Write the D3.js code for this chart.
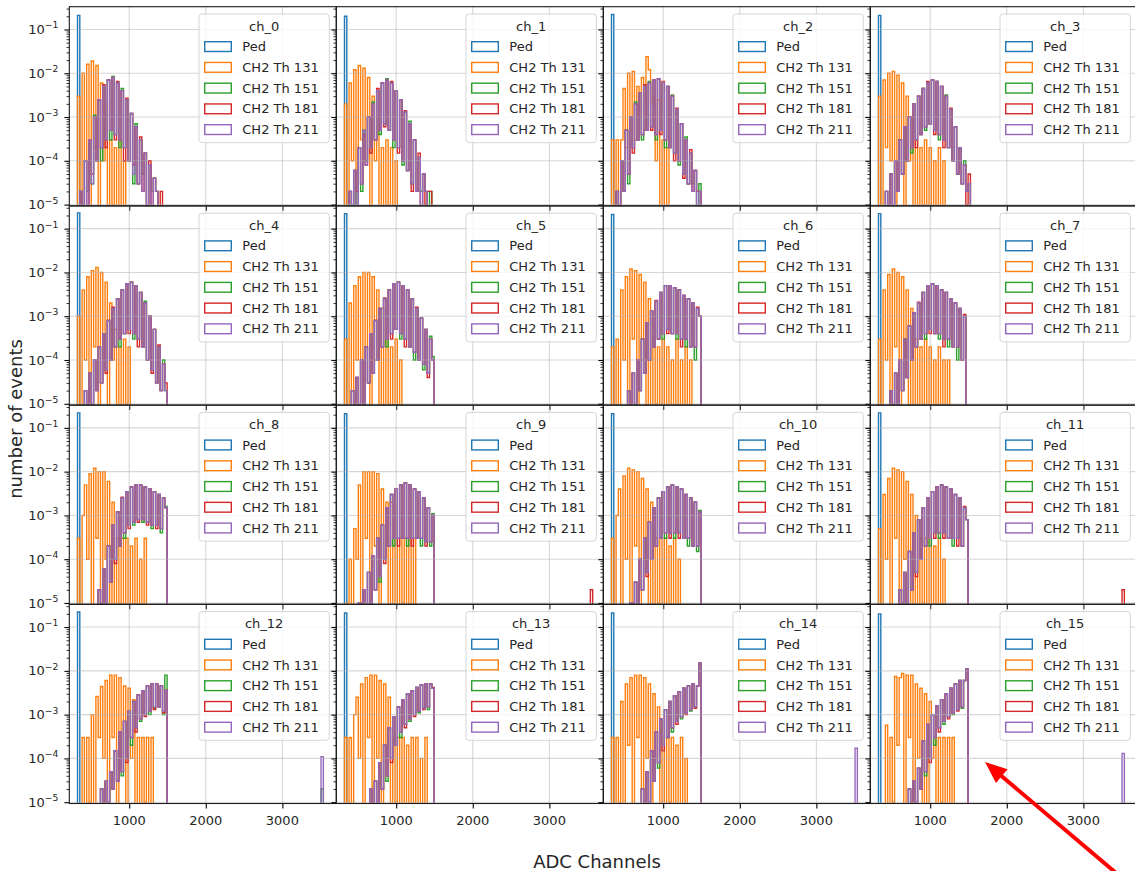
<!DOCTYPE html>
<html>
<head>
<meta charset="utf-8">
<script src="https://cdn.jsdelivr.net/npm/d3@7"></script>
<style>
  body { margin: 0; background: #fff; }
  svg { display: block; font-family: "DejaVu Sans", sans-serif; }
</style>
</head>
<body>
<div id="chart"></div>
<script>
// ---- data ----
const channels = ["ch_0","ch_1","ch_2","ch_3","ch_4","ch_5","ch_6","ch_7",
                  "ch_8","ch_9","ch_10","ch_11","ch_12","ch_13","ch_14","ch_15"];
const seriesNames = ["Ped", "CH2 Th 131", "CH2 Th 151", "CH2 Th 181", "CH2 Th 211"];
const seriesColors = ["#1f77b4", "#ff7f0e", "#2ca02c", "#d62728", "#9467bd"];

// histogram bins: edge k = binOrigin + k * binWidth (ADC channels)
const binOrigin = 295;
const binWidth = 30;

const xTicks = [1000, 2000, 3000];
const yTicks = [1e-1, 1e-2, 1e-3, 1e-4, 1e-5];

// pedestal: one bin per channel
const pedBin = 1;
const pedestal = [2.1e-1, 2.0e-1, 2.2e-1, 2.1e-1, 2.3e-1, 2.2e-1, 2.1e-1, 2.2e-1,
                  2.2e-1, 2.1e-1, 2.1e-1, 2.2e-1, 2.2e-1, 2.1e-1, 2.1e-1, 2.0e-1];

// CH2 Th 131 (first bin index, then per-bin fractions)
const th131Start = [1, 1, 1, 1, 1, 1, 1, 1, 1, 2, 1, 1, 3, 1, 1, 4];
const th131 = [
  [3e-3,0,1e-2,1e-4,1.6e-2,0,1.9e-2,2e-4,1.5e-2,0,6e-3,1e-4,2e-3,0,3e-4,1e-5,2e-4,0,3e-4,0,1e-4,0],
  [2e-3,0,6e-3,1e-4,1.2e-2,0,1.5e-2,3e-4,1.3e-2,1e-4,8e-3,0,3e-3,1e-4,1e-3,0,2e-4,0,3e-4,1e-5,2e-4,0,1e-4,0],
  [3e-4,0,3e-4,0,3e-4,4.5e-3,2e-4,1e-2,1e-3,1.1e-2,3e-4,5e-3,1e-3,8e-3,5e-4,2.4e-2,1.2e-2,2e-3,3e-3,1e-4,2.5e-3,0,3e-4,0,2e-4,0],
  [3e-3,0,7e-3,2e-4,1e-2,1e-4,1.1e-2,0,9e-3,3e-4,6e-3,0,3e-3,1e-4,1e-3,0,3e-4,0,2e-4,1e-5,3e-4,0,2e-4,0,1e-4,0,2e-4,0,1e-4,0],
  [1e-3,0,4e-3,1e-4,8e-3,0,1.1e-2,2e-4,1.3e-2,0,1e-2,1e-4,6e-3,0,2e-3,1e-4,5e-4,0,2e-4,0,3e-4,1e-5,2e-4],
  [3e-4,0,2e-3,0,5e-3,1e-4,8e-3,0,1e-2,2e-4,1e-2,0,8e-3,1e-4,4e-3,0,1.5e-3,0,3e-4,1e-5,2e-4,0,3e-4,0,1e-4],
  [2e-4,0,3e-4,0,4e-3,1e-4,8e-3,0,1.2e-2,3e-4,1.1e-2,0,9e-3,1e-4,6e-3,0,2.5e-3,0,3e-4,1e-5,2e-4,0,3e-4,0,2e-4,0,1e-4,0,3e-4,0,1e-4,0,2e-4,0,1e-4],
  [3e-4,0,4e-3,1e-4,9e-3,0,1.2e-2,2e-4,1e-2,0,8e-3,1e-4,4e-3,0,1.5e-3,0,3e-4,0,2e-4,1e-5,3e-4,0,2e-4,0,1e-4,0,2e-4,0,1e-4,0,1e-4],
  [3e-4,0,1e-3,5e-3,1e-4,9e-3,0,1.2e-2,3e-4,1e-2,0,1e-2,1e-4,6e-3,0,2e-3,0,3e-4,1e-5,3e-4,0,3e-4,0,2e-4,0,3e-4,0,1e-4,0,3e-4,0],
  [1e-5,1e-4,0,5e-4,1e-4,5e-3,0,1e-2,3e-4,1e-2,0,1e-2,2e-4,9e-3,0,4e-3,1e-4,2e-3,0,2e-3,0,1.5e-3,0,3e-4,1e-5,3e-4,0,3e-4,0,3e-4],
  [3e-4,0,1e-3,4e-3,0,8e-3,1e-4,1.2e-2,0,1.1e-2,2e-4,1e-2,0,7e-3,1e-4,4e-3,0,2e-3,0,3e-4,1e-5,3e-4,0,3e-4,0,2e-4,0,3e-4,0,1e-4],
  [5e-4,0,3e-3,1e-4,7e-3,0,1.2e-2,3e-4,1.1e-2,0,1e-2,1e-4,6e-3,0,3e-3,0,1e-3,0,3e-4,1e-5,3e-4,0,3e-4,0,2e-4,0,3e-4,0,1e-4,0],
  [3e-4,0,3e-4,1e-5,1e-3,0,2.6e-3,3e-4,4.4e-3,1e-4,6e-3,0,8e-3,3e-4,8e-3,0,7e-3,1e-4,4.5e-3,0,4e-3,1e-4,2.2e-3,0,3e-4,0,3e-4,1e-5,3e-4,0,3e-4,0],
  [3e-4,0,3e-4,0,1e-3,2.5e-3,1e-4,5e-3,0,7e-3,3e-4,8e-3,0,8e-3,1e-4,6e-3,0,5e-3,1e-4,2.5e-3,0,3e-4,1e-5,3e-4,0,3e-4,0,2e-4,0,3e-4,0,3e-4,0,1e-4,0,3e-4],
  [3e-4,0,3e-4,1e-5,2e-3,0,5e-3,2e-4,7e-3,0,8e-3,3e-4,8e-3,0,7e-3,1e-4,5e-3,0,3e-3,1e-4,1.5e-3,0,3e-4,0,3e-4,1e-5,3e-4,0,2e-4,0,3e-4,0,1e-4,0],
  [5.7e-4,0,3e-4,1e-5,7.4e-3,2e-4,7e-3,8.7e-3,0,8e-3,3e-4,8e-3,0,5e-3,1e-4,4e-3,0,3e-3,0,2e-3,1e-4,3e-4,0,3e-4,1e-5,3e-4,0,3e-4,0,3e-4,0]
];

// the three higher thresholds start at the same bin
const thHighStart = [2, 3, 3, 4, 4, 4, 8, 6, 10, 7, 9, 10, 11, 12, 14, 14];

// CH2 Th 151
const th151 = [
  [2e-5,0,1e-4,2e-5,2.5e-4,3e-5,1.1e-3,1e-4,2.5e-3,1e-4,5e-3,3e-4,7e-3,3e-4,8.5e-3,4e-4,6e-3,2e-4,4.5e-3,2e-4,2.5e-3,1e-4,1.2e-3,3e-5,7e-4,3e-5,3e-4,5e-5,1.5e-4,1e-5,8e-5,2e-5,4e-5,2e-5],
  [2e-5,1e-5,6e-5,1e-5,2e-4,2e-5,5e-4,1e-4,1e-3,2e-4,2.2e-3,3e-4,4e-3,4e-4,6e-3,7e-4,7.5e-3,5e-4,6e-3,2e-4,4e-3,2e-4,2.5e-3,8e-5,1.3e-3,6e-5,8e-4,3e-5,3e-4,2e-5,1.2e-4,2e-5,5e-5,2e-5,0,2e-5],
  [2e-5,0,1e-4,2e-5,5e-4,3e-5,1e-3,2e-4,2.2e-3,3e-4,3.5e-3,3e-4,5e-3,5e-4,6.5e-3,6e-4,7e-3,3e-4,7.5e-3,5e-4,6e-3,2e-4,5e-3,2e-4,3.2e-3,1.5e-4,1.5e-3,8e-5,7e-4,5e-5,3.5e-4,3e-5,1.5e-4,3e-5,6e-5,1e-5,3e-5],
  [2e-5,0,5e-5,1e-5,1e-4,2e-5,3e-4,5e-5,6e-4,1e-4,1e-3,1.5e-4,2e-3,3e-4,3e-3,4e-4,4.5e-3,5e-4,6e-3,7e-4,7e-3,5e-4,6.5e-3,3e-4,5e-3,3e-4,3.2e-3,2e-4,1.5e-3,1e-4,6e-4,5e-5,2e-4,3e-5,1e-4,2e-5,3e-5],
  [2e-5,0,5e-5,1e-5,1e-4,2e-5,2e-4,3e-5,4e-4,6e-5,8e-4,1e-4,1.5e-3,2e-4,2.5e-3,2e-4,4e-3,4e-4,5.5e-3,5e-4,6e-3,3e-4,5e-3,3e-4,3.5e-3,2e-4,2.2e-3,1e-4,1e-3,6e-5,5e-4,3e-5,2e-4,2e-5,1e-4,2e-5],
  [2e-5,0,4e-5,1e-5,1e-4,1e-5,2e-4,3e-5,4e-4,5e-5,8e-4,1e-4,1.5e-3,2e-4,2.5e-3,2e-4,4e-3,4e-4,5.5e-3,5e-4,6e-3,3e-4,5e-3,3e-4,4e-3,2e-4,2.5e-3,1e-4,1.5e-3,1e-4,9e-4,6e-5,5e-4,5e-5,3.5e-4,1.2e-4],
  [2e-5,0,5e-5,1e-5,1e-4,2e-5,3e-4,5e-5,7e-4,1e-4,1.3e-3,2e-4,2.2e-3,3e-4,3.5e-3,3e-4,5e-3,5e-4,5e-3,4e-4,4.5e-3,3e-4,4e-3,3e-4,3e-3,2e-4,2.5e-3,2e-4,2e-3,1e-4,1.5e-3,1e-3],
  [2e-5,0,5e-5,1e-5,1e-4,2e-5,3e-4,4e-5,6e-4,1e-4,1.2e-3,2e-4,2e-3,3e-4,3.5e-3,3e-4,5e-3,5e-4,5.5e-3,4e-4,5e-3,3e-4,4e-3,3e-4,3.5e-3,2e-4,2.5e-3,2e-4,2e-3,1e-4,1.5e-3,1e-4,1e-3],
  [2e-5,0,6e-5,1e-5,2e-4,3e-5,6e-4,1e-4,1.2e-3,2e-4,2.5e-3,3e-4,3.5e-3,6e-4,4.5e-3,6e-4,5e-3,8e-4,5e-3,7e-4,4.5e-3,7e-4,4e-3,5e-4,3.5e-3,6e-4,3e-3,4e-4,2.5e-3,1.6e-3],
  [1e-5,0,2e-5,0,5e-5,1e-5,1.2e-4,2e-5,3e-4,3e-5,6e-4,1e-4,1.5e-3,2e-4,3e-3,2e-4,4e-3,3e-4,5e-3,3e-4,5.5e-3,2e-4,5e-3,3e-4,4e-3,3e-4,3.5e-3,2e-4,2.5e-3,2.5e-4,1.5e-3,2e-4,1.1e-3],
  [1e-5,0,3e-5,1e-5,1e-4,2e-5,3e-4,5e-5,7e-4,1e-4,1.5e-3,2e-4,2.5e-3,3e-4,3.5e-3,3e-4,4.5e-3,4e-4,5e-3,3e-4,4.5e-3,4e-4,4e-3,3e-4,3e-3,2e-4,2.5e-3,2e-4,2e-3,1.5e-4,1.3e-3],
  [2e-5,0,5e-5,1e-5,1.5e-4,2e-5,4e-4,5e-5,8e-4,1e-4,1.5e-3,2e-4,2.5e-3,2e-4,3.5e-3,4e-4,4.5e-3,3e-4,5e-3,4e-4,4.5e-3,3e-4,4e-3,2e-4,3e-3,3e-4,2.5e-3,2e-4,1.5e-3,8e-4],
  [2e-5,0,3e-5,1e-5,5e-5,2e-5,1.5e-4,3e-5,4e-4,4e-5,7e-4,1e-4,1.2e-3,2e-4,2e-3,5e-4,2.8e-3,7e-4,3.5e-3,1e-3,4.5e-3,1e-3,5e-3,1.4e-3,5e-3,1.5e-3,4.5e-3,1e-3,8e-3],
  [2e-5,0,3e-5,1e-5,8e-5,2e-5,2e-4,3e-5,5e-4,1e-4,9e-4,2e-4,1.5e-3,3e-4,2.2e-3,6e-4,3e-3,7e-4,3.5e-3,1e-3,4.2e-3,1.1e-3,4.8e-3,1.4e-3,5e-3,1.3e-3,5e-3,4e-3],
  [2e-5,0,5e-5,1e-5,1.5e-4,3e-5,4e-4,6e-5,8e-4,2e-4,1.3e-3,3e-4,2e-3,4e-4,2.7e-3,7e-4,3.3e-3,8e-4,4e-3,1.1e-3,4.5e-3,1.2e-3,5e-3,1.5e-3,4.5e-3,1.5e-2],
  [2e-5,0,3e-5,1e-5,6e-5,2e-5,2.5e-4,4e-5,6e-4,1e-4,1e-3,2e-4,1.6e-3,5e-4,2.2e-3,6e-4,3e-3,9e-4,4e-3,1e-3,5e-3,1.3e-3,6e-3,1.4e-3,6e-3,1.1e-2]
];

// CH2 Th 181
const th181 = [
  [2e-5,1e-5,1e-4,1e-5,3e-4,5e-5,1e-3,1e-4,2.4e-3,2e-4,5.5e-3,2e-4,7e-3,5e-4,8e-3,3e-4,6.5e-3,3e-4,4e-3,1e-4,2.7e-3,1e-4,1.2e-3,8e-5,6e-4,3e-5,3.5e-4,2e-5,1.5e-4,0,1e-4,0,4e-5,2e-5,0,2e-5],
  [2e-5,0,6e-5,2e-5,2e-4,3e-5,4e-4,8e-5,1e-3,1.5e-4,2e-3,3e-4,4.5e-3,5e-4,6e-3,6e-4,7e-3,5e-4,6.5e-3,3e-4,4e-3,1.5e-4,2.5e-3,1e-4,1.4e-3,6e-5,7e-4,2e-5,3e-4,2e-5,1.5e-4,1e-5,5e-5,1e-5,2e-5,2e-5],
  [2e-5,1e-5,1e-4,2e-5,5e-4,5e-5,1e-3,1.5e-4,2e-3,3e-4,3.5e-3,4e-4,5.5e-3,5e-4,6e-3,5e-4,7e-3,4e-4,7.5e-3,4e-4,6.5e-3,3e-4,5e-3,2e-4,3e-3,1e-4,1.6e-3,1e-4,7e-4,4e-5,3e-4,3e-5,1.8e-4,2e-5,6e-5,2e-5,2e-5],
  [2e-5,1e-5,5e-5,1e-5,1e-4,2e-5,3e-4,5e-5,6e-4,1e-4,1e-3,2e-4,2e-3,2e-4,3e-3,4e-4,4.5e-3,6e-4,6.5e-3,7e-4,7e-3,4e-4,6.5e-3,4e-4,5e-3,2e-4,3e-3,2e-4,1.6e-3,1e-4,6e-4,5e-5,2e-4,3e-5,8e-5,1e-5,5e-5],
  [2e-5,1e-5,5e-5,1e-5,1e-4,2e-5,2e-4,3e-5,4e-4,5e-5,8e-4,1e-4,1.6e-3,2e-4,2.5e-3,3e-4,4e-3,4e-4,5.5e-3,4e-4,6e-3,4e-4,5e-3,2e-4,3.5e-3,2e-4,2e-3,1e-4,1e-3,5e-5,5e-4,3e-5,2.2e-4,2e-5,8e-5,3e-5],
  [2e-5,1e-5,4e-5,1e-5,1e-4,1e-5,2e-4,3e-5,4e-4,5e-5,8e-4,1e-4,1.5e-3,2e-4,2.6e-3,3e-4,4e-3,3e-4,5.5e-3,5e-4,6e-3,4e-4,5e-3,2e-4,4e-3,2e-4,2.5e-3,1.5e-4,1.6e-3,1e-4,9e-4,8e-5,5e-4,4e-5,3e-4,1e-4],
  [2e-5,1e-5,5e-5,1e-5,1e-4,2e-5,3e-4,5e-5,7e-4,1e-4,1.3e-3,2e-4,2.3e-3,3e-4,3.5e-3,4e-4,5e-3,4e-4,5e-3,4e-4,4.5e-3,4e-4,4e-3,2e-4,3e-3,3e-4,2.5e-3,2e-4,2e-3,2e-4,1.6e-3,1e-3],
  [2e-5,1e-5,5e-5,1e-5,1e-4,2e-5,3e-4,4e-5,6e-4,1e-4,1.2e-3,2e-4,2.1e-3,3e-4,3.5e-3,4e-4,5e-3,4e-4,5.5e-3,4e-4,5e-3,4e-4,4e-3,2e-4,3.5e-3,3e-4,2.5e-3,2e-4,2e-3,2e-4,1.5e-3,1e-4,1.1e-3],
  [2e-5,1e-5,6e-5,1e-5,2e-4,3e-5,6e-4,8e-5,1.2e-3,2e-4,2.6e-3,4e-4,3.5e-3,5e-4,4.5e-3,7e-4,5e-3,7e-4,5e-3,8e-4,4.5e-3,6e-4,4e-3,6e-4,3.5e-3,5e-4,3e-3,5e-4,2.5e-3,1.5e-3],
  [1e-5,1e-5,2e-5,0,5e-5,1e-5,1.2e-4,2e-5,3e-4,4e-5,6e-4,8e-5,1.5e-3,2e-4,3e-3,3e-4,4e-3,2e-4,5e-3,3e-4,5.5e-3,3e-4,5e-3,2e-4,4e-3,3e-4,3.5e-3,3e-4,2.5e-3,2e-4,1.5e-3,2.5e-4,1e-3],
  [1e-5,1e-5,3e-5,1e-5,1e-4,2e-5,3e-4,4e-5,7e-4,1e-4,1.5e-3,2e-4,2.5e-3,3e-4,3.5e-3,4e-4,4.5e-3,3e-4,5e-3,4e-4,4.5e-3,3e-4,4e-3,3e-4,3e-3,3e-4,2.5e-3,2e-4,2e-3,2e-4,1.2e-3],
  [2e-5,1e-5,5e-5,1e-5,1.5e-4,2e-5,4e-4,4e-5,8e-4,1e-4,1.5e-3,2e-4,2.5e-3,3e-4,3.5e-3,3e-4,4.5e-3,4e-4,5e-3,3e-4,4.5e-3,3e-4,4e-3,3e-4,3e-3,2e-4,2.5e-3,2e-4,1.6e-3,8e-4],
  [2e-5,1e-5,3e-5,1e-5,5e-5,2e-5,1.5e-4,3e-5,4e-4,5e-5,7e-4,8e-5,1.2e-3,3e-4,2e-3,4e-4,2.8e-3,8e-4,3.5e-3,9e-4,4.5e-3,1.2e-3,5e-3,1.3e-3,5e-3,1.5e-3,4.5e-3,1.1e-3,3.6e-3],
  [2e-5,1e-5,3e-5,1e-5,8e-5,2e-5,2e-4,4e-5,5e-4,8e-5,9e-4,2e-4,1.5e-3,4e-4,2.2e-3,5e-4,3e-3,8e-4,3.5e-3,9e-4,4.2e-3,1.2e-3,4.8e-3,1.3e-3,5e-3,1.5e-3,5e-3,4.2e-3],
  [2e-5,1e-5,5e-5,1e-5,1.5e-4,3e-5,4e-4,8e-5,8e-4,1.5e-4,1.3e-3,3e-4,2e-3,5e-4,2.7e-3,6e-4,3.3e-3,9e-4,4e-3,1e-3,4.5e-3,1.3e-3,5e-3,1.4e-3,4.5e-3,1.5e-2],
  [2e-5,1e-5,3e-5,1e-5,6e-5,2e-5,2.5e-4,5e-5,6e-4,8e-5,1e-3,3e-4,1.6e-3,4e-4,2.2e-3,7e-4,3e-3,8e-4,4e-3,1.1e-3,5e-3,1.2e-3,6e-3,1.5e-3,6e-3,1.1e-2]
];

// CH2 Th 211
const th211 = [
  [2e-5,0,1e-4,1e-5,3e-4,3e-5,1e-3,1e-4,2.5e-3,2e-4,5e-3,3e-4,7e-3,5e-4,8e-3,4e-4,6e-3,3e-4,4e-3,2e-4,2.5e-3,1e-4,1.2e-3,5e-5,6e-4,3e-5,3e-4,2e-5,1.5e-4,1e-5,8e-5,0,4e-5,2e-5],
  [2e-5,0,6e-5,1e-5,2e-4,3e-5,5e-4,8e-5,1e-3,2e-4,2e-3,3e-4,4e-3,5e-4,6e-3,7e-4,7e-3,5e-4,6e-3,3e-4,4e-3,2e-4,2.5e-3,1e-4,1.3e-3,6e-5,7e-4,3e-5,3e-4,2e-5,1.2e-4,1e-5,5e-5,2e-5],
  [2e-5,0,1e-4,2e-5,5e-4,5e-5,1e-3,2e-4,2e-3,3e-4,3.5e-3,4e-4,5e-3,5e-4,6e-3,6e-4,7e-3,4e-4,7.5e-3,5e-4,6e-3,3e-4,5e-3,2e-4,3e-3,1.5e-4,1.5e-3,1e-4,7e-4,5e-5,3e-4,3e-5,1.5e-4,2e-5,6e-5,1e-5,2e-5],
  [2e-5,0,5e-5,1e-5,1e-4,2e-5,3e-4,5e-5,6e-4,1e-4,1e-3,2e-4,2e-3,3e-4,3e-3,4e-4,4.5e-3,6e-4,6e-3,7e-4,7e-3,5e-4,6.5e-3,4e-4,5e-3,3e-4,3e-3,2e-4,1.5e-3,1e-4,6e-4,5e-5,2e-4,3e-5,8e-5,2e-5,3e-5],
  [2e-5,0,5e-5,1e-5,1e-4,2e-5,2e-4,3e-5,4e-4,6e-5,8e-4,1e-4,1.5e-3,2e-4,2.5e-3,3e-4,4e-3,4e-4,5.5e-3,5e-4,6e-3,4e-4,5e-3,3e-4,3.5e-3,2e-4,2e-3,1e-4,1e-3,6e-5,5e-4,3e-5,2e-4,2e-5,8e-5,2e-5],
  [2e-5,0,4e-5,1e-5,1e-4,1e-5,2e-4,3e-5,4e-4,5e-5,8e-4,1e-4,1.5e-3,2e-4,2.5e-3,3e-4,4e-3,4e-4,5.5e-3,5e-4,6e-3,4e-4,5e-3,3e-4,4e-3,2e-4,2.5e-3,1.5e-4,1.5e-3,1e-4,9e-4,8e-5,5e-4,5e-5,3e-4,1e-4],
  [2e-5,0,5e-5,1e-5,1e-4,2e-5,3e-4,5e-5,7e-4,1e-4,1.3e-3,2e-4,2.2e-3,3e-4,3.5e-3,4e-4,5e-3,5e-4,5e-3,4e-4,4.5e-3,4e-4,4e-3,3e-4,3e-3,3e-4,2.5e-3,2e-4,2e-3,2e-4,1.5e-3,1e-3],
  [2e-5,0,5e-5,1e-5,1e-4,2e-5,3e-4,4e-5,6e-4,1e-4,1.2e-3,2e-4,2e-3,3e-4,3.5e-3,4e-4,5e-3,5e-4,5.5e-3,4e-4,5e-3,4e-4,4e-3,3e-4,3.5e-3,3e-4,2.5e-3,2e-4,2e-3,2e-4,1.5e-3,1e-4,1e-3],
  [2e-5,0,6e-5,1e-5,2e-4,3e-5,6e-4,1e-4,1.2e-3,2e-4,2.5e-3,4e-4,3.5e-3,6e-4,4.5e-3,7e-4,5e-3,8e-4,5e-3,8e-4,4.5e-3,7e-4,4e-3,6e-4,3.5e-3,6e-4,3e-3,5e-4,2.5e-3,1.5e-3],
  [1e-5,0,2e-5,0,5e-5,1e-5,1.2e-4,2e-5,3e-4,4e-5,6e-4,1e-4,1.5e-3,2e-4,3e-3,3e-4,4e-3,3e-4,5e-3,3e-4,5.5e-3,3e-4,5e-3,3e-4,4e-3,3e-4,3.5e-3,3e-4,2.5e-3,2.5e-4,1.5e-3,2.5e-4,1e-3],
  [1e-5,0,3e-5,1e-5,1e-4,2e-5,3e-4,5e-5,7e-4,1e-4,1.5e-3,2e-4,2.5e-3,3e-4,3.5e-3,4e-4,4.5e-3,4e-4,5e-3,4e-4,4.5e-3,4e-4,4e-3,3e-4,3e-3,3e-4,2.5e-3,2e-4,2e-3,2e-4,1.2e-3],
  [2e-5,0,5e-5,1e-5,1.5e-4,2e-5,4e-4,5e-5,8e-4,1e-4,1.5e-3,2e-4,2.5e-3,3e-4,3.5e-3,4e-4,4.5e-3,4e-4,5e-3,4e-4,4.5e-3,3e-4,4e-3,3e-4,3e-3,3e-4,2.5e-3,2e-4,1.5e-3,8e-4],
  [2e-5,0,3e-5,1e-5,5e-5,2e-5,1.5e-4,3e-5,4e-4,5e-5,7e-4,1e-4,1.2e-3,3e-4,2e-3,5e-4,2.8e-3,8e-4,3.5e-3,1e-3,4.5e-3,1.2e-3,5e-3,1.5e-3,5e-3,1.5e-3,4.5e-3,1.2e-3,3.5e-3],
  [2e-5,0,3e-5,1e-5,8e-5,2e-5,2e-4,4e-5,5e-4,1e-4,9e-4,2e-4,1.5e-3,4e-4,2.2e-3,6e-4,3e-3,8e-4,3.5e-3,1e-3,4.2e-3,1.2e-3,4.8e-3,1.4e-3,5e-3,1.5e-3,5e-3,4e-3],
  [2e-5,0,5e-5,1e-5,1.5e-4,3e-5,4e-4,8e-5,8e-4,2e-4,1.3e-3,3e-4,2e-3,5e-4,2.7e-3,7e-4,3.3e-3,9e-4,4e-3,1.1e-3,4.5e-3,1.3e-3,5e-3,1.5e-3,4.5e-3,1.5e-2],
  [2e-5,0,3e-5,1e-5,6e-5,2e-5,2.5e-4,5e-5,6e-4,1e-4,1e-3,3e-4,1.6e-3,5e-4,2.2e-3,7e-4,3e-3,9e-4,4e-3,1.1e-3,5e-3,1.3e-3,6e-3,1.5e-3,6e-3,1.1e-2]
];

// single far-out bins near the top of the ADC range
const tailChannel = [9, 11, 12, 12, 14, 15];
const tailSeries  = [3, 3, 2, 4, 4, 4];
const tailBin     = [108, 107, 107, 107, 107, 107];
const tailValue   = [2e-5, 2e-5, 2e-5, 1.1e-4, 1.7e-4, 1.3e-4];

// ---- layout ----
const W = 1135, H = 871;
const gridLeft = 69.3, gridTop = 6.7;
const panelW = 267, panelH = 199.2;
const floorY = panelH + 40;   // empty bins fall off the bottom (clipped)

const svg = d3.select("#chart").append("svg")
  .attr("width", W)
  .attr("height", H);

const x = d3.scaleLinear().domain([218, 3704]).range([0, panelW]);
const y = d3.scaleLog().domain([Math.pow(10, -5.03), Math.pow(10, -0.48)]).range([panelH, 0]);

const minorTicks = [];
for (let e = -6; e <= 0; e++) {
  for (let m = 2; m <= 9; m++) {
    const v = m * Math.pow(10, e);
    if (v > y.domain()[0] && v < y.domain()[1]) minorTicks.push(v);
  }
}

const series = [
  { start: channels.map(() => pedBin), vals: pedestal.map(v => [v]) },
  { start: th131Start, vals: th131 },
  { start: thHighStart, vals: th151 },
  { start: thHighStart, vals: th181 },
  { start: thHighStart, vals: th211 }
];

const stepLine = d3.line()
  .x(p => x(p[0]))
  .y(p => p[1] > 0 ? y(p[1]) : floorY)
  .curve(d3.curveStepAfter);

// outline of a step histogram, like histtype="step"
function stepPoints(start, vals) {
  const edge = i => binOrigin + (start + i) * binWidth;
  const pts = [[edge(0), 0]];
  vals.forEach((v, i) => pts.push([edge(i), v]));
  pts.push([edge(vals.length), 0]);
  return pts;
}

channels.forEach((name, c) => {
  const col = c % 4, row = Math.floor(c / 4);
  const g = svg.append("g")
    .attr("transform", `translate(${gridLeft + col * panelW},${gridTop + row * panelH})`);

  g.append("clipPath").attr("id", "clip" + c)
    .append("rect").attr("width", panelW).attr("height", panelH);

  const plot = g.append("g").attr("clip-path", `url(#clip${c})`);

  series.forEach((s, si) => {
    let d = stepLine(stepPoints(s.start[c], s.vals[c]));
    tailChannel.forEach((tc, k) => {
      if (tc === c && tailSeries[k] === si) d += stepLine(stepPoints(tailBin[k], [tailValue[k]]));
    });
    plot.append("path")
      .attr("d", d)
      .attr("fill", "none")
      .attr("stroke", seriesColors[si])
      .attr("stroke-width", 1.4)
      .attr("stroke-linejoin", "miter");
  });

  // grid sits above the histogram outlines
  plot.selectAll(".gx").data(xTicks).join("line")
    .attr("x1", d => x(d)).attr("x2", d => x(d))
    .attr("y1", 0).attr("y2", panelH)
    .attr("stroke", "#b0b0b0").attr("stroke-opacity", 0.5).attr("stroke-width", 1.1);
  plot.selectAll(".gy").data(yTicks).join("line")
    .attr("x1", 0).attr("x2", panelW)
    .attr("y1", d => y(d)).attr("y2", d => y(d))
    .attr("stroke", "#b0b0b0").attr("stroke-opacity", 0.5).attr("stroke-width", 1.1);

  // axes (tick marks only)
  g.append("g")
    .call(d3.axisLeft(y).tickValues(yTicks).tickSize(4.9).tickFormat(""))
    .call(a => a.select(".domain").remove())
    .call(a => a.selectAll("line").attr("stroke", "#000").attr("stroke-width", 1.1));
  g.append("g")
    .call(d3.axisLeft(y).tickValues(minorTicks).tickSize(2.8).tickFormat(""))
    .call(a => a.select(".domain").remove())
    .call(a => a.selectAll("line").attr("stroke", "#000").attr("stroke-width", 0.8));
  g.append("g")
    .attr("transform", `translate(0,${panelH})`)
    .call(d3.axisBottom(x).tickValues(xTicks).tickSize(4.9).tickFormat(""))
    .call(a => a.select(".domain").remove())
    .call(a => a.selectAll("line").attr("stroke", "#000").attr("stroke-width", 1.1));

  g.append("rect")
    .attr("width", panelW).attr("height", panelH)
    .attr("fill", "none").attr("stroke", "#1a1a1a").attr("stroke-width", 1.1);

  if (col === 0) {
    yTicks.forEach(v => {
      const t = g.append("text")
        .attr("x", -11).attr("y", y(v) + 4.6)
        .attr("text-anchor", "end")
        .attr("font-size", 13).attr("fill", "#262626");
      t.append("tspan").text("10");
      t.append("tspan").attr("font-size", 9.2).attr("dy", -5.6)
        .text("\u2212" + Math.round(-Math.log10(v)));
    });
  }
  if (row === 3) {
    g.selectAll(".xl").data(xTicks).join("text")
      .attr("x", d => x(d)).attr("y", panelH + 22)
      .attr("text-anchor", "middle")
      .attr("font-size", 13).attr("fill", "#262626")
      .text(d => d);
  }

  // legend
  const lw = 130.3, lh = 128.7;
  const lg = g.append("g").attr("transform", `translate(${panelW - 7 - lw},7.3)`);
  lg.append("rect")
    .attr("width", lw).attr("height", lh).attr("rx", 3)
    .attr("fill", "#fff").attr("fill-opacity", 0.8)
    .attr("stroke", "#cccccc").attr("stroke-opacity", 0.8).attr("stroke-width", 1);
  lg.append("text")
    .attr("x", lw / 2).attr("y", 16.5)
    .attr("text-anchor", "middle").attr("font-size", 13).attr("fill", "#262626")
    .text(name);
  seriesNames.forEach((sn, i) => {
    const cy = 32.6 + i * 20.75;
    lg.append("rect")
      .attr("x", 5.7).attr("y", cy - 4.9).attr("width", 26.6).attr("height", 9.8)
      .attr("fill", "none").attr("stroke", seriesColors[i]).attr("stroke-width", 1.4);
    lg.append("text")
      .attr("x", 43.3).attr("y", cy + 4.6)
      .attr("font-size", 13).attr("fill", "#262626")
      .text(sn);
  });
});

// shared axis labels
svg.append("text")
  .attr("transform", "translate(22,419) rotate(-90)")
  .attr("text-anchor", "middle").attr("font-size", 18).attr("fill", "#262626")
  .text("number of events");
svg.append("text")
  .attr("x", 597).attr("y", 868)
  .attr("text-anchor", "middle").attr("font-size", 18).attr("fill", "#262626")
  .text("ADC Channels");

// red annotation arrow
const tail = [1122, 878], tip = [985, 762];
const dx = tip[0] - tail[0], dy = tip[1] - tail[1];
const len = Math.hypot(dx, dy), ux = dx / len, uy = dy / len;
const headLen = 22, headHalf = 9;
const base = [tip[0] - ux * headLen, tip[1] - uy * headLen];
svg.append("line")
  .attr("x1", tail[0]).attr("y1", tail[1])
  .attr("x2", base[0] + ux * 2).attr("y2", base[1] + uy * 2)
  .attr("stroke", "#ff0000").attr("stroke-width", 4);
svg.append("polygon")
  .attr("points", [
    tip,
    [base[0] - uy * headHalf, base[1] + ux * headHalf],
    [base[0] + uy * headHalf, base[1] - ux * headHalf]
  ].map(p => p.join(",")).join(" "))
  .attr("fill", "#ff0000");
</script>
</body>
</html>
